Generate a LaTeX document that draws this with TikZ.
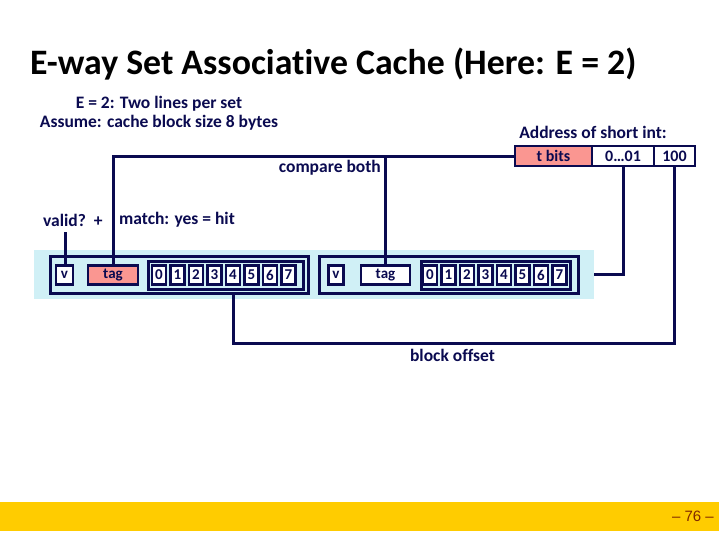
\documentclass[tikz,border=0pt]{standalone}
\usepackage{fontspec}
\setmainfont{Carlito}[Ligatures={NoCommon}]
\newfontfamily\arialf{Liberation Sans}
\usetikzlibrary{calc}
\definecolor{navy}{RGB}{10,10,80}
\definecolor{bandc}{RGB}{208,240,246}
\definecolor{salmon}{RGB}{250,150,145}
\definecolor{barc}{RGB}{255,204,0}
\definecolor{pgnum}{RGB}{128,40,0}
\begin{document}
\begin{tikzpicture}[x=1pt,y=-1pt,
  lbl/.style={font=\fontsize{17.5}{20}\selectfont\bfseries, text=navy, inner sep=0},
  cell/.style={draw=navy, line width=2.5pt, fill=white, minimum height=19pt, inner sep=0,
    font=\fontsize{15}{17}\selectfont\bfseries, text=navy},
  box/.style={draw=navy, line width=3pt, inner sep=0},
  conn/.style={draw=navy, line width=3pt},
  acell/.style={draw=navy, line width=2pt, fill=white, minimum height=20pt, inner sep=0,
    font=\fontsize{16}{18}\selectfont\bfseries, text=navy}]
\useasboundingbox (0,0) rectangle (719,539);
\fill[white] (0,0) rectangle (719,539);
% title
\node[anchor=west, inner sep=0, font=\fontsize{35.8}{40}\selectfont\bfseries] (title) at (30,64) {E-way Set Associative Cache (Here: E = 2)};
\node[lbl] (t1) at (159,104) {E = 2: Two lines per set};
\node[lbl] (t2) at (159,123) {Assume: cache block size 8 bytes};
\node[lbl] (addr) at (593,132) {Address of short int:};
% address
\node[acell, fill=salmon, minimum width=77pt] (tb) at (553.5,156) {t bits};
\node[acell, minimum width=62pt] (mid) at (623,156) {0…01};
\node[acell, minimum width=41pt] (off) at (674.5,156) {100};
% band
\node[fill=bandc, minimum width=560pt, minimum height=49pt, inner sep=0] (band) at (314,274.5) {};
% line 1
\node[box, minimum width=258pt, minimum height=37pt] (o1) at (179,274.5) {};
\node[box, minimum width=155pt, minimum height=28pt] (d1) at (225.5,275) {};
\node[cell, minimum width=17pt] (v1) at (64.5,275) {v};
\node[cell, fill=salmon, minimum width=50pt] (g1) at (113,275) {tag};
\foreach \i in {0,...,7} \node[cell, minimum width=14pt] (c1\i) at ({159+18.5*\i},275) {\i};
% line 2
\node[box, minimum width=259pt, minimum height=37pt] (o2) at (448.5,274.5) {};
\node[box, minimum width=149pt, minimum height=28pt] (d2) at (495.5,275) {};
\node[cell, minimum width=15pt] (v2) at (336,275) {v};
\node[cell, minimum width=49pt] (g2) at (385.5,275) {tag};
\foreach \i in {0,...,7} \node[cell, minimum width=14pt] (c2\i) at ({430+18.5*\i},275) {\i};
% labels
\node[lbl, anchor=east] (cmp) at (381,168) {compare both};
\node[lbl, anchor=west] (val) at (43,220) {valid?\ \ +};
\node[lbl, anchor=west] (mat) at (119,220) {match: yes = hit};
\node[lbl] (bo) at (452.5,355) {block offset};
% connectors
\draw[conn] (tb.west) -| (g1.north);
\draw[conn] (g2.north) -- (g2.north |- tb.west);
\coordinate (vtop) at (65.5,232);
\draw[conn] (vtop) -- (v1.north -| vtop);
\draw[conn] (band.east) -| (mid.south);
\coordinate (loop) at (c14.south |- 0,343);
\draw[conn] (off.south) |- (loop) -- (c14.south |- o1.south);
% footer
\fill[barc] (0,502) rectangle (719,531);
\node[anchor=east, inner sep=0, text=pgnum, font=\arialf\fontsize{15}{17}\selectfont] (pg) at (714,516) {– 76 –};
\end{tikzpicture}
\end{document}
